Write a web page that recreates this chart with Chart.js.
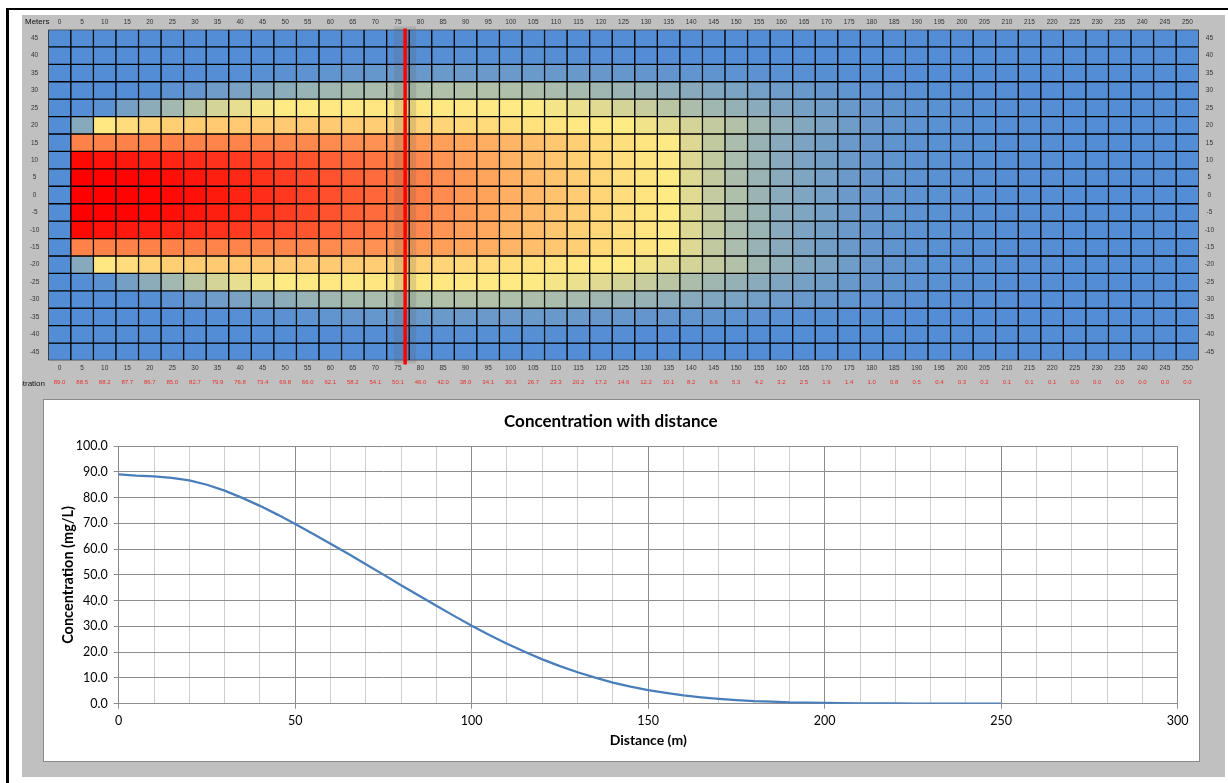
<!DOCTYPE html>
<html><head><meta charset="utf-8">
<script src="https://cdn.jsdelivr.net/npm/chart.js@4.4.1/dist/chart.umd.min.js"></script>
<style>
html,body{margin:0;padding:0;background:#fff;width:1228px;height:783px;overflow:hidden;}
body{position:relative;}
#frameTop{position:absolute;left:6px;top:8px;width:1222px;height:2px;background:#000;}
#frameLeft{position:absolute;left:6px;top:8px;width:3px;height:775px;background:#000;}
#grey{position:absolute;left:22px;top:15px;width:1203px;height:762px;background:#c0c0c0;}
#heatBox{position:absolute;left:22px;top:15px;width:1203px;height:385px;}
#linePanel{position:absolute;left:43px;top:399px;width:1155px;height:361px;background:#fff;border:1px solid #8a8a8a;}
#lineBox{position:absolute;left:44px;top:400px;width:1155px;height:361px;}
</style></head>
<body>
<div id="frameTop"></div><div id="frameLeft"></div>
<div id="grey"></div>
<div id="heatBox"><canvas id="heat"></canvas></div>
<div id="linePanel"></div>
<div id="lineBox"><canvas id="line"></canvas></div>
<script>
// ---------- DATA ----------
const distances = [0,5,10,15,20,25,30,35,40,45,50,55,60,65,70,75,80,85,90,95,100,105,110,115,120,125,130,135,140,145,150,155,160,165,170,175,180,185,190,195,200,205,210,215,220,225,230,235,240,245,250];
const concentration = [89.0,88.5,88.2,87.7,86.7,85.0,82.7,79.9,76.8,73.4,69.8,66.0,62.1,58.2,54.1,50.1,46.0,42.0,38.0,34.1,30.3,26.7,23.3,20.2,17.2,14.6,12.2,10.1,8.2,6.6,5.3,4.2,3.2,2.5,1.9,1.4,1.0,0.8,0.5,0.4,0.3,0.2,0.1,0.1,0.1,0.0,0.0,0.0,0.0,0.0,0.0];
const rowOffsets = [45,40,35,30,25,20,15,10,5,0,-5,-10,-15,-20,-25,-30,-35,-40,-45];
const markerDistance = 76.6;

// plume cells (mg/L), one array per lateral offset (rows mirror about 0)
const heatRow0  = [0,88.5,88.2,87.7,86.7,85.0,82.7,79.9,76.8,73.4,69.8,66.0,62.1,58.2,54.1,50.1,46.0,42.0,38.0,34.1,30.3,26.7,23.3,20.2,17.2,14.6,12.2,10.1,8.2,6.6,5.3,4.2,3.2,2.5,1.9,1.4,1.0,0.8,0.5,0.4,0.3,0.2,0.1,0.1,0.1,0,0,0,0,0,0];
const heatRow5  = [0,88.4,87.9,87.0,85.6,83.6,81.0,78.1,75.0,71.7,68.2,64.5,60.7,56.9,52.9,49.0,45.1,41.2,37.3,33.5,29.8,26.3,23.0,19.9,17.0,14.4,12.1,10.0,8.1,6.5,5.2,4.1,3.2,2.5,1.9,1.4,1.0,0.8,0.5,0.4,0.3,0.2,0.1,0.1,0.1,0,0,0,0,0,0];
const heatRow10 = [0,85.5,82.5,80.5,78.5,76.5,74.0,71.5,69.0,66.0,63.0,59.8,56.4,53.0,49.5,46.0,42.6,39.0,35.5,32.0,28.8,25.5,22.3,19.4,16.6,14.1,11.9,9.8,8.0,6.4,5.1,4.1,3.1,2.4,1.8,1.4,1.0,0.7,0.5,0.4,0.3,0.2,0.1,0.1,0.1,0,0,0,0,0,0];
const heatRow15 = [0,45,45,45,45,45,45,44.5,44.5,44,43.5,43,42,41,40,38.5,37,35,33,30.5,28,25,22,19.2,16.5,14,12,9.9,8.0,6.4,5.1,4.0,3.1,2.4,1.8,1.4,1.0,0.7,0.5,0.4,0.3,0.2,0.1,0.1,0.1,0,0,0,0,0,0];
const heatRow20 = [0,3,11,15,18,19.5,20.5,21,21,21,21,21,21,20.5,20,19.5,18.5,17.5,16.5,15.5,14.5,13.5,12.5,11.5,10.7,10,9.2,8.4,7.5,6.5,5.5,4.5,3.6,2.8,2.2,1.7,1.2,0.9,0.6,0.4,0.3,0.2,0.1,0.1,0.1,0,0,0,0,0,0];
const heatRow25 = [0,0.1,0.4,2.0,3.3,4.6,6.0,7.5,8.6,9.6,10.2,10.8,11.2,11.5,11.6,11.6,11.5,11.3,11,10.7,10.3,9.9,9.4,8.8,8.2,7.5,6.8,6.0,5.2,4.5,3.8,3.2,2.6,2.1,1.7,1.3,1.0,0.7,0.5,0.4,0.3,0.2,0.1,0.1,0.1,0,0,0,0,0,0];
const heatRow30 = [0,0,0,0,0.2,0.5,1.0,1.6,2.2,2.8,3.3,4.0,4.5,4.8,5.0,5.2,5.3,5.4,5.4,5.4,5.3,5.2,5.0,4.8,4.5,4.2,3.9,3.5,3.1,2.7,2.3,1.9,1.6,1.3,1.0,0.8,0.6,0.45,0.3,0.2,0.15,0.1,0.1,0.05,0,0,0,0,0,0,0];
const heatRow35 = [0,0,0,0,0,0,0.05,0.1,0.2,0.3,0.45,0.6,0.8,1.0,1.1,1.2,1.3,1.35,1.4,1.4,1.4,1.35,1.3,1.25,1.2,1.1,1.0,0.9,0.8,0.7,0.6,0.5,0.4,0.3,0.25,0.2,0.15,0.1,0.05,0,0,0,0,0,0,0,0,0,0,0,0];
const heatRow40 = [0,0,0,0,0,0,0,0,0,0,0,0,0.05,0.1,0.1,0.15,0.15,0.2,0.2,0.2,0.2,0.2,0.15,0.15,0.1,0.1,0.05,0.05,0,0,0,0,0,0,0,0,0,0,0,0,0,0,0,0,0,0,0,0,0,0,0];
const heatRow45 = [0,0,0,0,0,0,0,0,0,0,0,0,0,0,0,0,0,0,0,0,0,0,0,0,0,0,0,0,0,0,0,0,0,0,0,0,0,0,0,0,0,0,0,0,0,0,0,0,0,0,0];

// ---------- STYLE / HELPERS ----------
const halfRows = {0:heatRow0,5:heatRow5,10:heatRow10,15:heatRow15,20:heatRow20,25:heatRow25,30:heatRow30,35:heatRow35,40:heatRow40,45:heatRow45};
const rowFor = r => halfRows[Math.abs(r)];
const LOW=[83,141,213], MID=[255,235,132], HIGH=[255,0,0];
const MIDV = 10, MAXV = 88.5;
function colorFor(v){
  let a,b,t;
  if (v <= MIDV){ a=LOW; b=MID; t=v/MIDV; } else { a=MID; b=HIGH; t=Math.min(1,(v-MIDV)/(MAXV-MIDV)); }
  const c = a.map((x,i)=>Math.round(x+(b[i]-x)*t));
  return `rgb(${c[0]},${c[1]},${c[2]})`;
}
const distanceLabels = distances.map(String);
const concLabels = concentration.map(v=>v.toFixed(1));
const smallFont = {family:"'Liberation Sans', Arial, sans-serif", size:6.5};
const noGrid = {display:false, drawTicks:false};

const heatPlugin = {
  id:'heatExtras',
  afterDatasetsDraw(chart){
    const {ctx, chartArea, scales} = chart;
    const xs = scales.x;
    const i0 = Math.floor(markerDistance/5);
    const p0 = xs.getPixelForValue(i0), p1 = xs.getPixelForValue(i0+1);
    const px = p0 + (markerDistance - i0*5)/5*(p1-p0);
    ctx.save();
    ctx.fillStyle = 'rgba(90,90,90,0.18)';
    ctx.fillRect(px-11, chartArea.top-3, 22, chartArea.bottom-chartArea.top+6);
    ctx.strokeStyle = '#ff0000';
    ctx.lineWidth = 3.5;
    ctx.beginPath(); ctx.moveTo(px, chartArea.top-1); ctx.lineTo(px, chartArea.bottom+4); ctx.stroke();
    ctx.restore();
  },
  afterDraw(chart){
    const ctx = chart.ctx;
    ctx.save();
    ctx.fillStyle = '#111';
    ctx.font = "8px 'Liberation Sans', Arial, sans-serif";
    ctx.textBaseline = 'middle';
    ctx.textAlign = 'left';
    ctx.fillText('Meters', 3, 7);
    ctx.textAlign = 'right';
    ctx.fillText('Concentration', 23, 368.5);
    ctx.restore();
  }
};

Chart.defaults.font.family = "Lato, 'Liberation Sans', sans-serif";

new Chart(document.getElementById('heat'), {
  type:'bar',
  data:{
    labels: distanceLabels,
    datasets: rowOffsets.map(r => ({
      label: String(r),
      data: rowFor(r).map(() => [r-2.5, r+2.5]),
      backgroundColor: rowFor(r).map(colorFor),
      borderColor:'#000', borderWidth:1, borderSkipped:false,
      barPercentage:1, categoryPercentage:1, grouped:false,
      xAxisID:'x', yAxisID:'y'
    }))
  },
  options:{
    responsive:true, maintainAspectRatio:false, animation:false,
    layout:{padding:0},
    plugins:{legend:{display:false}, tooltip:{enabled:false}},
    scales:{
      x:{type:'category', position:'bottom', offset:true, weight:0,
         grid:noGrid, border:{display:false},
         ticks:{font:smallFont, color:'#333', padding:4.3, autoSkip:false, maxRotation:0},
         afterFit:s=>{s.height=16;}},
      xConc:{type:'category', position:'bottom', labels:concLabels, offset:true, weight:1,
         grid:noGrid, border:{display:false},
         ticks:{font:{family:smallFont.family,size:6}, color:'#e8302c', padding:2.6, autoSkip:false, maxRotation:0},
         afterFit:s=>{s.height=23.5;}},
      xTop:{type:'category', position:'top', labels:distanceLabels, offset:true,
         grid:noGrid, border:{display:false},
         ticks:{font:smallFont, color:'#333', padding:3.3, autoSkip:false, maxRotation:0},
         afterFit:s=>{s.height=14.5;}},
      y:{type:'linear', position:'left', min:-47.5, max:47.5,
         afterBuildTicks:s=>{s.ticks = rowOffsets.map(v=>({value:v}));},
         grid:noGrid, border:{display:false},
         ticks:{font:smallFont, color:'#333', padding:9, crossAlign:'center'},
         afterFit:s=>{s.width=26.3;}},
      yRight:{type:'linear', position:'right', min:-47.5, max:47.5,
         afterBuildTicks:s=>{s.ticks = rowOffsets.map(v=>({value:v}));},
         grid:noGrid, border:{display:false},
         ticks:{font:smallFont, color:'#333', padding:6, crossAlign:'center'},
         afterFit:s=>{s.width=26.3;}}
    }
  },
  plugins:[heatPlugin]
});

new Chart(document.getElementById('line'), {
  type:'line',
  data:{datasets:[{
    data: distances.map((d,i)=>({x:d, y:concentration[i]})),
    borderColor:'#4A7EBB', borderWidth:2.25, pointRadius:0, tension:0, fill:false
  }]},
  options:{
    responsive:true, maintainAspectRatio:false, animation:false,
    layout:{padding:{left:0,right:21.3,top:0,bottom:0}},
    plugins:{legend:{display:false}, tooltip:{enabled:false},
      title:{display:true, text:'Concentration with distance', color:'#000',
             font:{size:17, weight:'bold'}, padding:{top:11.3,bottom:14.4}}},
    scales:{
      x:{type:'linear', min:0, max:300,
         ticks:{stepSize:10, autoSkip:false, maxRotation:0, color:'#000', font:{size:12.5}, padding:4.3,
                callback:v=> v%50===0 ? String(v) : ''},
         grid:{color:c=> (c.tick && c.tick.value%50===0) ? '#8c8c8c' : '#cfcfcf',
               tickColor:c=> (c.tick && c.tick.value%50===0) ? '#8c8c8c' : 'rgba(0,0,0,0)', tickLength:5},
         border:{color:'#8c8c8c'},
         title:{display:true, text:'Distance (m)', color:'#000', font:{size:14, weight:'bold'}, padding:{top:0,bottom:12.6}},
         afterFit:s=>{s.height=57.3;}},
      y:{min:0, max:100,
         ticks:{stepSize:10, color:'#000', font:{size:12.5}, padding:6, callback:v=>v.toFixed(1)},
         grid:{color:'#8c8c8c', tickLength:5},
         border:{color:'#8c8c8c'},
         title:{display:true, text:'Concentration (mg/L)', color:'#000', font:{size:14.5, weight:'bold'}, padding:{top:15.3,bottom:0}},
         afterFit:s=>{s.width=74.7;}}
    }
  }
});
</script>
</body></html>
